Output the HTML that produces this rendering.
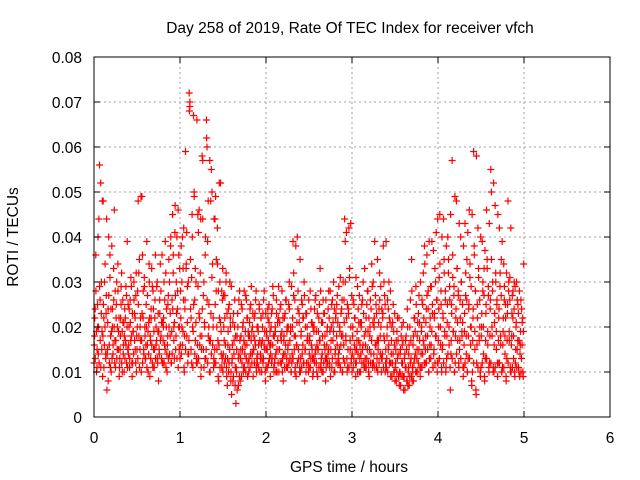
<!DOCTYPE html>
<html><head><meta charset="utf-8"><style>
html,body{margin:0;padding:0;background:#fff;}
svg{display:block;font-family:"Liberation Sans",sans-serif;}
</style></head><body>
<svg id="chart" width="640" height="480" viewBox="0 0 640 480" xmlns="http://www.w3.org/2000/svg">
<text x="350" y="33" font-size="15.5" text-anchor="middle">Day 258 of 2019, Rate Of TEC Index for receiver vfch</text>
<text x="349" y="472" font-size="15.5" text-anchor="middle">GPS time / hours</text>
<text transform="translate(18,237) rotate(-90)" font-size="15.5" text-anchor="middle">ROTI / TECUs</text>
<g id="grid"></g><g id="pts"></g><g id="axes"></g>
</svg>
<script>
const xTicks=[0,1,2,3,4,5,6];
const yTicks=[0,0.01,0.02,0.03,0.04,0.05,0.06,0.07,0.08];
const yTickLabels=["0","0.01","0.02","0.03","0.04","0.05","0.06","0.07","0.08"];
const binStarts=[0.00,0.05,0.10,0.15,0.20,0.25,0.30,0.35,0.40,0.45,0.50,0.55,0.60,0.65,0.70,0.75,0.80,0.85,0.90,0.95,1.00,1.05,1.10,1.15,1.20,1.25,1.30,1.35,1.40,1.45,1.50,1.55,1.60,1.65,1.70,1.75,1.80,1.85,1.90,1.95,2.00,2.05,2.10,2.15,2.20,2.25,2.30,2.35,2.40,2.45,2.50,2.55,2.60,2.65,2.70,2.75,2.80,2.85,2.90,2.95,3.00,3.05,3.10,3.15,3.20,3.25,3.30,3.35,3.40,3.45,3.50,3.55,3.60,3.65,3.70,3.75,3.80,3.85,3.90,3.95,4.00,4.05,4.10,4.15,4.20,4.25,4.30,4.35,4.40,4.45,4.50,4.55,4.60,4.65,4.70,4.75,4.80,4.85,4.90,4.95];
// ROTI values in units of 0.01 TECU/min per time bin
const rotiValues=[
[1.2,1.8,2.4,3.6,1.0,1.5,2.0],[1.4,4.4,5.6,2.6,1.1,3.0,1.9],[0.9,4.8,2.2,1.6,3.4,1.3,2.7],[0.6,1.5,2.4,4.0,1.2,3.1,1.8],
[1.0,3.8,2.0,1.4,2.6,4.6,1.7],[1.1,2.2,3.0,1.5,2.8,1.9,0.9],[1.3,1.8,2.5,3.2,1.0,2.1,1.6],[1.0,2.4,1.7,2.9,1.2,3.9,1.5],
[1.4,2.0,1.1,2.6,3.1,1.8,0.9],[1.2,1.9,3.0,2.3,1.5,2.7,1.0],[1.5,2.8,4.8,3.2,1.1,2.0,1.7],[1.0,4.9,3.6,2.2,1.4,2.9,1.8],
[1.3,2.5,3.9,1.6,1.0,2.1,3.0],[0.9,1.7,2.4,3.3,1.2,2.8,1.5],[1.1,2.2,3.6,1.6,2.9,1.3,1.9],[0.8,1.5,2.6,3.4,1.8,2.1,1.2],
[1.2,2.0,3.0,1.6,3.9,1.1,2.4],[1.0,1.8,2.7,3.5,1.4,2.3,4.0],[1.2,2.6,4.5,3.2,1.7,2.1,4.7],[1.5,3.0,4.0,2.4,1.1,3.6,2.0],
[1.3,2.8,3.8,2.0,1.6,3.3,4.2],[1.0,2.4,5.9,3.3,1.8,2.9,1.4],[1.4,7.2,6.9,3.5,2.2,1.2,4.0],[1.1,6.7,5.0,2.6,1.7,3.0,1.3],
[1.2,4.5,4.1,2.3,1.6,3.2,0.9],[1.5,5.8,4.4,2.7,1.1,2.0,3.6],[1.3,6.6,6.0,3.9,1.8,2.5,1.0],[1.0,4.8,5.5,3.1,1.6,2.2,1.3],
[1.2,4.4,4.9,2.8,1.5,3.4,0.9],[0.8,5.2,3.0,2.1,1.4,1.1,2.6],[1.0,2.7,1.7,2.2,1.3,3.2,0.9],[0.7,1.6,2.4,1.2,3.0,2.0,1.0],
[0.5,1.3,2.1,0.9,1.7,2.6,1.1],[0.3,1.0,1.8,2.3,0.7,1.4,2.8],[0.8,1.5,2.5,1.2,2.0,1.0,1.7],[1.1,1.6,2.7,1.3,2.2,0.9,1.9],
[1.0,1.8,2.4,1.4,2.9,1.2,2.0],[0.9,1.5,2.2,1.7,2.6,1.1,1.3],[1.2,2.0,1.6,2.5,1.0,1.4,2.2],[1.0,1.7,2.3,1.3,2.8,1.5,0.8],
[1.1,1.9,1.5,2.4,1.2,2.1,1.6],[0.9,1.6,2.3,1.3,2.9,1.8,1.0],[1.2,2.0,1.4,2.6,1.0,1.7,2.2],[1.0,1.5,2.4,1.8,1.2,2.8,1.3],
[0.8,1.7,2.2,1.4,2.6,1.1,1.9],[1.1,1.6,2.5,3.0,1.3,2.0,1.0],[1.2,2.0,3.9,2.7,1.5,1.0,1.8],[0.9,1.6,4.0,2.4,1.3,2.1,1.1],
[1.0,1.8,2.6,1.4,2.2,1.2,3.0],[0.8,1.5,2.3,1.2,2.0,1.7,1.0],[1.1,1.7,2.8,1.3,2.1,1.5,0.9],[1.0,1.9,2.4,1.4,2.7,1.2,1.6],
[0.9,1.5,2.2,1.7,3.3,1.1,1.3],[1.0,1.8,2.6,1.2,2.3,1.5,0.8],[1.1,1.6,2.0,1.4,2.8,1.2,1.9],[0.9,1.7,2.5,1.3,2.1,3.0,1.0],
[1.0,1.5,2.3,1.8,2.7,1.2,1.4],[1.2,2.0,3.1,1.6,2.4,1.0,1.8],[1.3,2.6,4.4,3.9,1.7,2.2,1.0],[1.1,2.4,4.2,3.1,1.5,2.0,1.3],
[1.0,1.8,2.6,1.3,2.2,1.5,0.9],[1.2,1.7,2.9,1.4,2.1,1.0,1.6],[1.0,2.0,2.5,1.5,3.0,1.2,1.8],[1.1,1.6,2.2,1.3,2.8,1.9,1.0],
[0.9,1.8,2.6,1.4,3.4,1.2,2.1],[1.2,2.0,3.9,1.6,2.5,1.1,1.7],[1.0,1.7,2.4,3.2,1.4,2.0,1.3],[1.3,2.2,3.8,1.8,2.7,1.0,1.5],
[1.1,1.8,2.6,1.5,3.0,1.2,2.1],[0.9,1.4,2.0,1.2,2.5,1.0,1.6],[0.8,1.2,1.7,1.0,2.2,1.4,0.9],[0.7,1.0,1.5,0.9,2.0,1.2,1.7],
[0.6,0.9,1.4,1.1,1.8,0.8,2.4],[0.7,1.1,1.6,0.9,2.6,1.3,3.5],[0.8,1.0,1.8,1.2,2.2,1.4,2.9],[1.0,1.5,2.1,1.2,2.7,1.7,0.9],
[1.1,1.9,2.6,1.4,3.2,1.6,3.8],[1.2,1.8,2.4,3.6,1.5,2.8,1.0],[1.3,2.0,2.9,1.6,3.9,2.3,1.1],[1.4,2.2,3.3,1.8,4.1,2.6,1.2],
[1.2,2.0,3.1,4.5,1.6,2.5,1.0],[1.5,2.3,4.4,3.5,1.8,2.8,1.1],[1.3,2.1,4.0,3.2,1.6,2.6,0.6],[1.4,2.5,5.7,3.6,1.9,2.9,1.0],
[1.2,2.2,4.8,3.3,1.7,2.7,1.1],[1.5,2.6,4.0,3.0,1.8,2.1,0.9],[1.1,1.9,4.3,2.7,1.4,3.5,1.0],[1.3,2.4,4.6,3.1,1.6,2.0,0.7],
[1.0,2.2,5.9,3.8,1.5,2.8,0.5],[1.2,2.5,4.2,3.3,1.7,2.0,0.9],[1.1,2.0,3.9,2.8,1.4,3.3,0.8],[1.3,2.3,4.6,3.5,1.6,2.7,1.0],
[1.2,2.4,5.5,5.0,1.8,3.0,1.1],[1.0,2.1,4.7,3.2,1.5,2.6,0.9],[1.2,2.2,4.2,2.9,1.6,3.5,1.0],[1.1,1.9,3.4,2.6,1.4,2.2,0.8],
[1.3,2.3,4.8,2.8,1.7,3.1,1.0],[1.0,1.8,2.7,2.2,1.3,3.0,0.9],[1.2,2.0,3.0,1.5,2.5,1.1,1.7],[0.9,1.6,2.6,1.3,2.1,1.0,1.9]
];
// second batch of readings per bin (denser core band)
const rotiValuesB=[
[1.6,2.2,1.3,2.8,1.9,1.1,2.5,4.0],[2.0,1.2,2.9,1.7,5.2,2.3,1.5,4.8],[1.8,2.5,1.1,3.0,2.0,1.4,2.3,4.4],[1.4,2.1,0.8,2.7,1.6,3.6,1.1,2.4],
[1.9,1.3,2.4,1.6,3.3,2.0,1.2,2.8],[1.7,2.5,1.3,2.0,3.4,1.5,2.2,1.1],[1.5,2.2,2.9,1.2,1.9,2.6,1.4,2.1],[1.8,1.3,2.2,1.6,2.7,2.0,1.1,2.5],
[1.6,2.4,1.3,2.1,1.7,2.9,1.2,2.3],[1.9,1.4,2.6,1.7,2.2,1.2,3.2,1.8],[2.0,1.3,2.5,1.8,3.5,1.5,2.2,4.9],[1.7,2.3,1.2,2.8,1.5,3.1,2.0,1.3],
[1.6,2.0,1.1,2.7,1.9,1.4,3.4,2.2],[1.8,1.3,2.2,1.6,2.9,1.1,2.4,1.9],[1.5,2.6,1.3,2.0,1.7,3.0,1.2,2.3],[1.9,1.4,2.3,1.7,2.8,1.3,3.6,2.1],
[1.7,2.2,1.2,2.6,1.5,3.2,2.0,1.4],[1.6,2.5,1.3,2.0,3.0,1.8,3.8,1.2],[1.9,1.4,2.4,3.6,2.0,1.3,4.1,2.7],[1.8,2.3,1.3,2.8,4.6,2.0,1.5,3.3],
[1.6,2.2,1.4,3.0,4.0,1.9,2.6,1.1],[1.8,2.6,1.5,3.4,4.1,2.1,1.2,3.0],[1.7,6.8,7.0,2.4,1.5,3.1,4.5,2.0],[1.9,2.5,4.9,1.4,3.3,2.1,1.2,6.6],
[1.6,2.9,1.3,4.6,2.2,1.8,4.4,1.1],[1.8,2.4,5.7,1.5,3.0,2.1,1.3,4.0],[1.5,6.2,2.6,1.2,4.8,2.0,1.7,5.7],[1.7,2.3,1.4,5.0,3.4,2.0,1.1,4.4],
[1.5,2.5,1.2,3.5,2.0,4.2,1.7,2.8],[1.6,2.2,1.1,5.2,1.9,2.8,1.3,3.3],[1.4,2.0,1.2,2.7,1.6,3.0,1.1,2.3],[1.3,1.9,1.0,2.5,1.5,2.2,0.8,2.9],
[1.2,1.6,0.8,2.3,1.4,2.0,0.7,1.8],[1.1,1.5,0.6,2.0,1.3,2.6,0.9,1.7],[1.3,1.8,0.9,2.4,1.5,2.1,1.1,2.8],[1.4,1.9,1.0,2.6,1.6,2.2,1.2,1.8],
[1.3,2.1,1.1,2.5,1.7,1.9,1.4,2.3],[1.5,1.8,1.2,2.3,1.6,2.8,1.0,2.0],[1.4,1.9,1.1,2.4,1.7,1.3,2.2,1.6],[1.3,2.0,1.2,2.6,1.6,1.9,1.0,2.3],
[1.5,1.8,1.1,2.2,1.7,2.5,1.3,1.9],[1.4,2.0,1.2,2.4,1.6,2.7,1.1,1.8],[1.3,1.9,1.0,2.3,1.5,2.1,1.2,2.9],[1.5,2.1,1.2,2.5,1.7,1.9,1.0,2.2],
[1.4,1.8,1.1,2.3,1.6,2.6,1.3,2.0],[1.5,2.0,1.2,2.4,1.7,1.9,1.0,2.9],[1.4,2.2,1.3,3.2,1.8,2.6,1.1,3.8],[1.6,2.1,1.2,2.8,1.5,2.3,1.0,3.5],
[1.3,1.9,1.1,2.5,1.6,2.2,1.2,2.7],[1.5,2.0,1.0,2.3,1.7,1.8,1.2,2.6],[1.4,1.8,1.1,2.4,1.6,2.1,1.3,2.0],[1.3,2.0,1.2,2.6,1.5,1.9,1.0,2.3],
[1.5,1.9,1.1,2.5,1.7,2.8,1.2,2.1],[1.4,2.1,1.0,2.3,1.6,1.8,1.3,2.6],[1.3,1.9,1.2,2.4,1.5,2.2,1.1,2.8],[1.5,2.0,1.1,2.6,1.7,1.9,1.0,2.4],
[1.4,2.2,1.2,2.5,1.6,2.1,1.3,2.9],[1.5,1.9,1.1,2.3,1.8,2.6,1.0,3.0],[1.6,2.1,1.2,3.0,1.8,4.1,1.3,2.5],[1.5,2.3,1.1,3.3,1.7,4.3,1.2,2.7],
[1.4,2.0,1.1,2.5,1.6,2.2,1.2,3.1],[1.5,1.9,1.0,2.4,1.7,2.7,1.3,2.1],[1.4,2.1,1.2,2.6,1.6,2.3,1.1,3.3],[1.3,1.9,1.1,2.5,1.5,2.8,1.2,2.2],
[1.5,2.0,1.2,2.4,1.7,2.9,1.1,3.0],[1.4,2.2,1.1,2.7,1.6,2.3,1.3,3.5],[1.5,2.1,1.2,2.6,1.8,2.9,1.0,2.4],[1.4,2.3,1.1,3.0,1.7,2.5,1.2,3.9],
[1.3,2.0,1.0,2.4,1.6,2.2,1.2,2.8],[1.2,1.7,0.9,2.1,1.4,1.9,1.0,2.3],[1.1,1.5,0.8,1.9,1.3,1.7,0.9,2.2],[1.0,1.4,0.7,1.8,1.2,1.6,0.9,2.1],
[0.9,1.3,0.6,1.7,1.1,1.5,0.8,2.0],[1.0,1.4,0.7,2.0,1.2,1.7,0.9,2.8],[1.1,1.6,0.8,2.2,1.3,1.9,1.0,2.5],[1.3,1.8,1.0,2.3,1.5,2.1,1.1,3.0],
[1.4,2.0,1.1,2.5,1.7,2.2,1.2,3.4],[1.5,2.1,1.2,2.7,1.8,2.4,1.0,3.9],[1.6,2.2,1.3,2.9,1.9,2.5,1.1,3.7],[1.5,2.3,1.2,3.0,1.8,2.6,1.0,4.4],
[1.7,2.4,1.3,3.4,2.0,2.8,1.1,4.0],[1.6,2.2,1.2,3.2,1.9,2.6,1.0,3.8],[1.8,2.5,1.4,3.5,2.0,2.9,1.1,4.5],[1.7,2.3,1.3,3.1,1.9,2.7,1.0,4.9],
[1.8,2.4,1.4,3.3,2.1,2.8,1.2,4.3],[1.7,2.2,1.3,3.0,1.9,2.5,1.1,3.8],[1.6,2.3,1.2,3.2,1.8,2.6,1.0,4.1],[1.8,2.5,1.3,3.4,2.0,2.9,0.8,4.5],
[1.7,2.4,1.2,3.6,1.9,2.8,0.6,5.8],[1.6,2.2,1.1,3.1,1.8,2.6,1.0,4.0],[1.8,2.3,1.2,3.0,2.0,2.7,0.9,3.7],[1.7,2.5,1.3,3.3,1.9,2.9,1.1,4.3],
[1.8,2.6,1.2,3.5,2.0,2.8,1.0,5.2],[1.6,2.3,1.1,3.0,1.9,2.5,1.2,4.5],[1.7,2.4,1.2,3.2,1.8,2.7,1.0,3.9],[1.6,2.2,1.1,2.9,1.8,2.5,0.9,3.2],
[1.7,2.5,1.2,3.0,1.9,2.6,1.1,4.2],[1.6,2.3,1.1,2.8,1.8,2.4,1.0,2.9],[1.5,2.1,1.1,2.6,1.7,2.3,1.0,2.8],[1.4,1.9,1.0,2.4,1.6,2.2,0.9,3.4]
];
const binWidth=0.05;
const valueScale=0.01;

const L=94,R=610,T=57,B=417;
const xs=v=>L+(v-0)/(6-0)*(R-L);
const ys=v=>B-(v-0)/(0.08-0)*(B-T);
const NS="http://www.w3.org/2000/svg";
function mk(tag,parent,attrs){const e=document.createElementNS(NS,tag);for(const k in attrs)e.setAttribute(k,attrs[k]);parent.appendChild(e);return e;}
const grid=document.getElementById('grid'),axes=document.getElementById('axes'),pts=document.getElementById('pts');

xTicks.forEach((t,i)=>{
  const x=xs(t);
  if(i>0&&i<xTicks.length-1){const g=mk('line',grid,{x1:x,y1:T,x2:x,y2:B,stroke:'#a0a0a0','stroke-dasharray':'2,3'});
  
  }
  const tk=mk('path',axes,{d:`M${x},${B}v-6M${x},${T}v6`,stroke:'#000'});
  
  
  const lb=mk('text',axes,{x:x,y:B+26,'font-size':15.5,'text-anchor':'middle'});
  
  
  lb.textContent=String(t);
});
yTicks.forEach((t,i)=>{
  const y=ys(t);
  if(i>0&&i<yTicks.length-1){const g=mk('line',grid,{x1:L,y1:y,x2:R,y2:y,stroke:'#a0a0a0','stroke-dasharray':'2,3'});
  
  }
  const tk=mk('path',axes,{d:`M${L},${y}h6M${R},${y}h-6`,stroke:'#000'});
  
  
  const lb=mk('text',axes,{x:L-12,y:y+6,'font-size':15.5,'text-anchor':'end'});
  
  
  lb.textContent=yTickLabels[i];
});
const frame=mk('rect',axes,{x:L,y:T,width:R-L,height:B-T,fill:'none',stroke:'#000'});



function crosses(arr,offset){
  let d='';
  binStarts.forEach((t0,i)=>{
    const vals=arr[i];
    vals.forEach((v,j)=>{
      const x=xs(t0+binWidth*(j+offset)/vals.length), y=ys(v*valueScale);
      d+=`M${(x-3.5).toFixed(1)},${y.toFixed(1)}h7M${x.toFixed(1)},${(y-3.5).toFixed(1)}v7`;
    });
  });
  return d;
}
const seriesA=mk('path',pts,{d:crosses(rotiValues,0),stroke:'#ff0000','stroke-width':1.2,fill:'none'});


const seriesB=mk('path',pts,{d:crosses(rotiValuesB,0.5),stroke:'#ff0000','stroke-width':1.2,fill:'none'});


</script>
</body></html>
